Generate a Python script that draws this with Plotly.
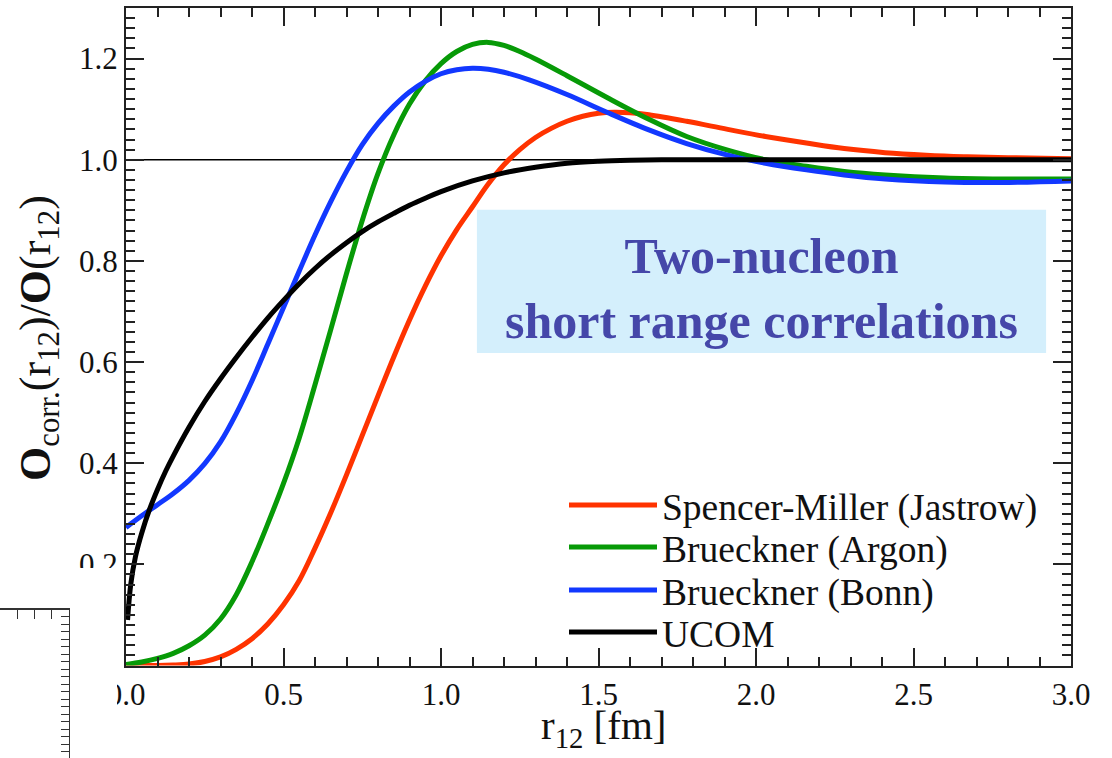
import plotly.graph_objects as go

W, H = 1112, 758

# Correlation factor O_corr(r12)/O(r12) for four short-range correlation models
r_jastrow = [0.0, 0.1, 0.15, 0.20, 0.25, 0.30, 0.35, 0.40, 0.45, 0.50, 0.55, 0.60, 0.65,
             0.70, 0.75, 0.80, 0.85, 0.90, 0.95, 1.00, 1.05, 1.10, 1.15, 1.20, 1.25, 1.30,
             1.35, 1.40, 1.45, 1.50, 1.55, 1.60, 1.66, 1.78, 1.91, 2.03, 2.16, 2.28, 2.41,
             2.54, 2.66, 2.80, 3.0]
o_jastrow = [0.0, 0.0, 0.001, 0.003, 0.008, 0.017, 0.032, 0.053, 0.082, 0.120, 0.168, 0.232,
             0.302, 0.377, 0.455, 0.533, 0.610, 0.683, 0.750, 0.810, 0.862, 0.907, 0.952,
             0.990, 1.020, 1.044, 1.062, 1.076, 1.086, 1.092, 1.094, 1.093, 1.089, 1.076,
             1.060, 1.046, 1.033, 1.022, 1.014, 1.009, 1.006, 1.004, 1.002]

r_argon = [0.0, 0.05, 0.10, 0.15, 0.20, 0.25, 0.30, 0.35, 0.40, 0.45, 0.50, 0.55, 0.60, 0.65,
           0.70, 0.75, 0.80, 0.85, 0.90, 0.95, 1.00, 1.05, 1.10, 1.15, 1.20, 1.25, 1.30,
           1.40, 1.53, 1.66, 1.78, 1.91, 2.03, 2.16, 2.28, 2.41, 2.60, 2.78, 3.0]
o_argon = [0.002, 0.007, 0.014, 0.024, 0.039, 0.060, 0.092, 0.140, 0.205, 0.280, 0.360, 0.450,
           0.555, 0.664, 0.775, 0.880, 0.973, 1.049, 1.110, 1.156, 1.190, 1.214, 1.228, 1.232,
           1.226, 1.214, 1.199, 1.166, 1.122, 1.080, 1.046, 1.019, 1.0, 0.987, 0.977, 0.970,
           0.964, 0.962, 0.962]

r_bonn = [0.0, 0.05, 0.10, 0.15, 0.20, 0.25, 0.30, 0.35, 0.40, 0.45, 0.50, 0.55, 0.60, 0.65,
          0.70, 0.75, 0.80, 0.85, 0.90, 0.95, 1.00, 1.05, 1.10, 1.15, 1.20, 1.28, 1.40, 1.53,
          1.66, 1.78, 1.91, 2.03, 2.16, 2.28, 2.41, 2.60, 2.78, 3.0]
o_bonn = [0.273, 0.296, 0.318, 0.340, 0.366, 0.399, 0.442, 0.498, 0.563, 0.635, 0.708, 0.780,
          0.851, 0.917, 0.977, 1.030, 1.072, 1.106, 1.134, 1.155, 1.170, 1.178, 1.181, 1.179,
          1.173, 1.158, 1.129, 1.093, 1.059, 1.032, 1.009, 0.993, 0.980, 0.970, 0.962, 0.956,
          0.955, 0.958]

r_ucom = [0.005, 0.015, 0.03, 0.05, 0.075, 0.10, 0.125, 0.15, 0.20, 0.25, 0.30, 0.35, 0.40,
          0.45, 0.50, 0.55, 0.60, 0.65, 0.70, 0.75, 0.80, 0.85, 0.90, 0.95, 1.00, 1.10, 1.20,
          1.30, 1.40, 1.50, 1.60, 1.70, 2.0, 2.5, 3.0]
o_ucom = [0.09, 0.16, 0.215, 0.262, 0.309, 0.348, 0.383, 0.414, 0.471, 0.522, 0.567, 0.609,
          0.649, 0.687, 0.722, 0.755, 0.785, 0.812, 0.836, 0.858, 0.877, 0.894, 0.910, 0.924,
          0.937, 0.958, 0.974, 0.985, 0.993, 0.997, 0.999, 1.0, 1.0, 1.0, 1.0]

series = [
    ("Spencer-Miller (Jastrow)", r_jastrow, o_jastrow, "#ff3300"),
    ("Brueckner (Argon)", r_argon, o_argon, "#079a07"),
    ("Brueckner (Bonn)", r_bonn, o_bonn, "#1238ff"),
    ("UCOM", r_ucom, o_ucom, "#000000"),
]

x_ticks = [0.0, 0.5, 1.0, 1.5, 2.0, 2.5, 3.0]
y_ticks = [0.0, 0.2, 0.4, 0.6, 0.8, 1.0, 1.2]
y_tick_text = ["", "0.2", "0.4", "0.6", "0.8", "1.0", "1.2"]

# highlighted label box, in data units
box_r = [1.114, 2.921]
box_o = [0.618, 0.901]

SERIF = "Liberation Serif, Times New Roman, serif"

# one legend box per entry so the rows sit at the chosen spacing
legend_ids = ["legend", "legend2", "legend3", "legend4"]
legend_rows = [505, 547, 590, 632]

fig = go.Figure()

for (name, xs, ys, color), lid in zip(series, legend_ids):
    fig.add_trace(go.Scatter(
        x=xs, y=ys, mode="lines", name=name, legend=lid,
        line=dict(color=color, width=5, shape="spline", smoothing=1.0),
    ))

# corner of a neighbouring frame at the lower left
fig.add_trace(go.Scatter(x=[], y=[], xaxis="x2", yaxis="y2",
                         showlegend=False, hoverinfo="skip"))

axis_common = dict(
    showline=True, linecolor="#222222", linewidth=2,
    ticks="inside", ticklen=18, tickwidth=1.5, tickcolor="#222222",
    mirror="allticks", showgrid=False, zeroline=False, automargin=False,
    tickfont=dict(family=SERIF, size=31, color="#111111"),
)

legend_style = dict(
    xanchor="left", yanchor="middle",
    font=dict(family=SERIF, size=37.5, color="#111111"),
    bgcolor="rgba(0,0,0,0)", itemwidth=88, borderwidth=0,
)

layout_legends = {}
for lid, row in zip(legend_ids, legend_rows):
    layout_legends[lid] = dict(x=564 / W, y=1 - row / H, **legend_style)

fig.update_layout(
    width=W, height=H,
    margin=dict(l=0, r=0, t=0, b=0, autoexpand=False),
    paper_bgcolor="white", plot_bgcolor="white",
    xaxis=dict(
        domain=[126 / W, 1071 / W], range=[0, 3.0],
        tickvals=x_ticks, tickformat=".1f",
        minor=dict(dtick=0.1, ticklen=9, ticks="inside", tickcolor="#222222", tickwidth=1.5),
        **axis_common,
    ),
    yaxis=dict(
        domain=[1 - 665.5 / H, 1 - 8 / H], range=[0, 1.3],
        tickvals=y_ticks, ticktext=y_tick_text,
        minor=dict(dtick=0.02, ticklen=9, ticks="inside", tickcolor="#222222", tickwidth=1.5),
        **axis_common,
    ),
    xaxis2=dict(
        domain=[0, 69 / W], anchor="y2", side="top", range=[0, 4], dtick=1,
        showline=True, linecolor="#333333", linewidth=1.5,
        ticks="inside", ticklen=9, tickcolor="#333333", automargin=False,
        showticklabels=False, showgrid=False, zeroline=False,
    ),
    yaxis2=dict(
        domain=[0, 1 - 610 / H], anchor="x2", side="right", range=[0.17, 19.9], dtick=1,
        showline=True, linecolor="#333333", linewidth=1.5,
        ticks="inside", ticklen=8, tickcolor="#333333", automargin=False,
        showticklabels=False, showgrid=False, zeroline=False,
    ),
    showlegend=True,
    **layout_legends,
)

# reference level O_corr = O
fig.add_shape(type="line", xref="x domain", yref="y", x0=0, x1=1, y0=1.0, y1=1.0,
              line=dict(color="#000000", width=1.5), layer="below")

# light-blue panel behind the caption
fig.add_shape(type="rect", xref="x", yref="y",
              x0=box_r[0], x1=box_r[1], y0=box_o[0], y1=box_o[1],
              fillcolor="#d4effc", line=dict(width=0), layer="below")

# blank patch over the lower-left label area
fig.add_shape(type="rect", xref="paper", yref="paper",
              x0=70 / W, x1=117 / W, y0=0, y1=1 - 568 / H,
              fillcolor="white", line=dict(width=0), layer="above")

fig.add_annotation(
    x=sum(box_r) / 2, y=0.7458, xref="x", yref="y",
    xanchor="center", yanchor="middle",
    text="<b>Two-nucleon<br>short range correlations</b>",
    showarrow=False, align="center",
    font=dict(family=SERIF, size=50, color="#4547a9"),
)

fig.add_annotation(
    x=603 / W, y=1 - 728 / H, xref="paper", yref="paper",
    xanchor="center", yanchor="middle",
    text="r<sub>12</sub> [fm]", showarrow=False,
    font=dict(family=SERIF, size=41, color="#111111"),
)

fig.add_annotation(
    x=39 / W, y=1 - 338 / H, xref="paper", yref="paper",
    xanchor="center", yanchor="middle", textangle=-90,
    text="<b>O</b><sub>corr.</sub>(r<sub>12</sub>)/<b>O</b>(r<sub>12</sub>)",
    showarrow=False,
    font=dict(family=SERIF, size=44, color="#111111"),
)

fig.write_html("out.html")
